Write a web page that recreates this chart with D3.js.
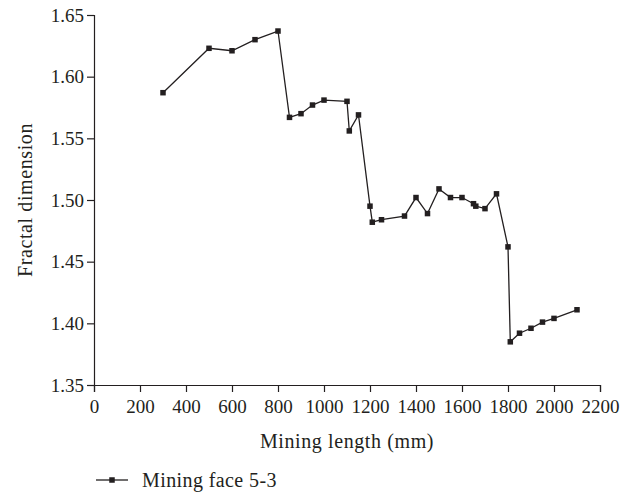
<!DOCTYPE html>
<html>
<head>
<meta charset="utf-8">
<script src="https://cdn.jsdelivr.net/npm/d3@7"></script>
<style>
  body { margin: 0; background: #fff; }
  svg text { font-family: "Liberation Serif", "DejaVu Serif", serif; fill: #231f20; }
</style>
</head>
<body>
<div id="chart"></div>
<script>
// Mining length (mm) along the face
const miningLength = [300, 500, 600, 700, 800, 850, 900, 950, 1000, 1100, 1110, 1150,
    1200, 1210, 1250, 1350, 1400, 1450, 1500, 1550, 1600, 1650, 1660, 1700, 1750,
    1800, 1810, 1850, 1900, 1950, 2000, 2100];
// Fractal dimension at each position
const fractalDim = [1.587, 1.623, 1.621, 1.630, 1.637, 1.567, 1.570, 1.577, 1.581, 1.580, 1.556, 1.569,
    1.495, 1.482, 1.484, 1.487, 1.502, 1.489, 1.509, 1.502, 1.502, 1.497, 1.495, 1.493, 1.505,
    1.462, 1.385, 1.392, 1.396, 1.401, 1.404, 1.411];
const xTicks = [0, 200, 400, 600, 800, 1000, 1200, 1400, 1600, 1800, 2000, 2200];
const yTicks = [1.35, 1.40, 1.45, 1.50, 1.55, 1.60, 1.65];
const seriesName = 'Mining face 5-3';

const width = 632;
const height = 494;
const margin = {top: 15, right: 32, bottom: 109, left: 94};
const chartWidth = width - margin.left - margin.right;
const chartHeight = height - margin.top - margin.bottom;
const ink = '#231f20';

const data = miningLength.map((x, i) => ({x, y: fractalDim[i]}));

const svg = d3.select('#chart').append('svg')
    .attr('width', width)
    .attr('height', height);

const g = svg.append('g')
    .attr('transform', `translate(${margin.left},${margin.top})`);

const xScale = d3.scaleLinear().domain([0, 2200]).range([0, chartWidth]);
const yScale = d3.scaleLinear().domain([1.35, 1.65]).range([chartHeight, 0]);

const xAxis = d3.axisBottom(xScale).tickValues(xTicks).tickSize(7).tickPadding(8).tickFormat(d3.format('d'));
const yAxis = d3.axisLeft(yScale).tickValues(yTicks).tickSize(7).tickPadding(3).tickFormat(d3.format('.2f'));

function styleAxis(sel) {
    sel.select('.domain').attr('stroke', ink).attr('stroke-width', 1.2);
    sel.selectAll('.tick line').attr('stroke', ink).attr('stroke-width', 1.2);
    sel.selectAll('.tick text').style('font-size', '19px').attr('fill', ink);
}

g.append('g')
    .attr('transform', `translate(0,${chartHeight})`)
    .call(xAxis.tickSizeOuter(7))
    .call(styleAxis);

g.append('g')
    .call(yAxis.tickSizeOuter(7))
    .call(styleAxis);

// series line and square markers
const line = d3.line().x(d => xScale(d.x)).y(d => yScale(d.y));

g.append('path')
    .datum(data)
    .attr('fill', 'none')
    .attr('stroke', ink)
    .attr('stroke-width', 1.3)
    .attr('d', line);

const ms = 5.5;
g.selectAll('.marker')
    .data(data)
    .enter()
    .append('rect')
    .classed('marker', true)
    .attr('x', d => xScale(d.x) - ms / 2)
    .attr('y', d => yScale(d.y) - ms / 2)
    .attr('width', ms)
    .attr('height', ms)
    .attr('fill', ink);

// axis titles
svg.append('text')
    .attr('x', margin.left + chartWidth / 2)
    .attr('y', 448)
    .attr('text-anchor', 'middle')
    .style('font-size', '20px')
    .style('letter-spacing', '0.6px')
    .text('Mining length (mm)');

svg.append('text')
    .attr('transform', `translate(32,${margin.top + chartHeight / 2}) rotate(-90)`)
    .attr('text-anchor', 'middle')
    .style('font-size', '20px')
    .style('letter-spacing', '0.6px')
    .text('Fractal dimension');

// legend
const legend = svg.append('g').attr('transform', 'translate(0,480)');
legend.append('line')
    .attr('x1', 96).attr('x2', 128)
    .attr('y1', 0).attr('y2', 0)
    .attr('stroke', ink)
    .attr('stroke-width', 1.3);
legend.append('rect')
    .attr('x', 112 - ms / 2).attr('y', -ms / 2)
    .attr('width', ms).attr('height', ms)
    .attr('fill', ink);
legend.append('text')
    .attr('x', 142)
    .attr('y', 7)
    .style('font-size', '20px')
    .style('letter-spacing', '0.4px')
    .text(seriesName);
</script>
</body>
</html>
